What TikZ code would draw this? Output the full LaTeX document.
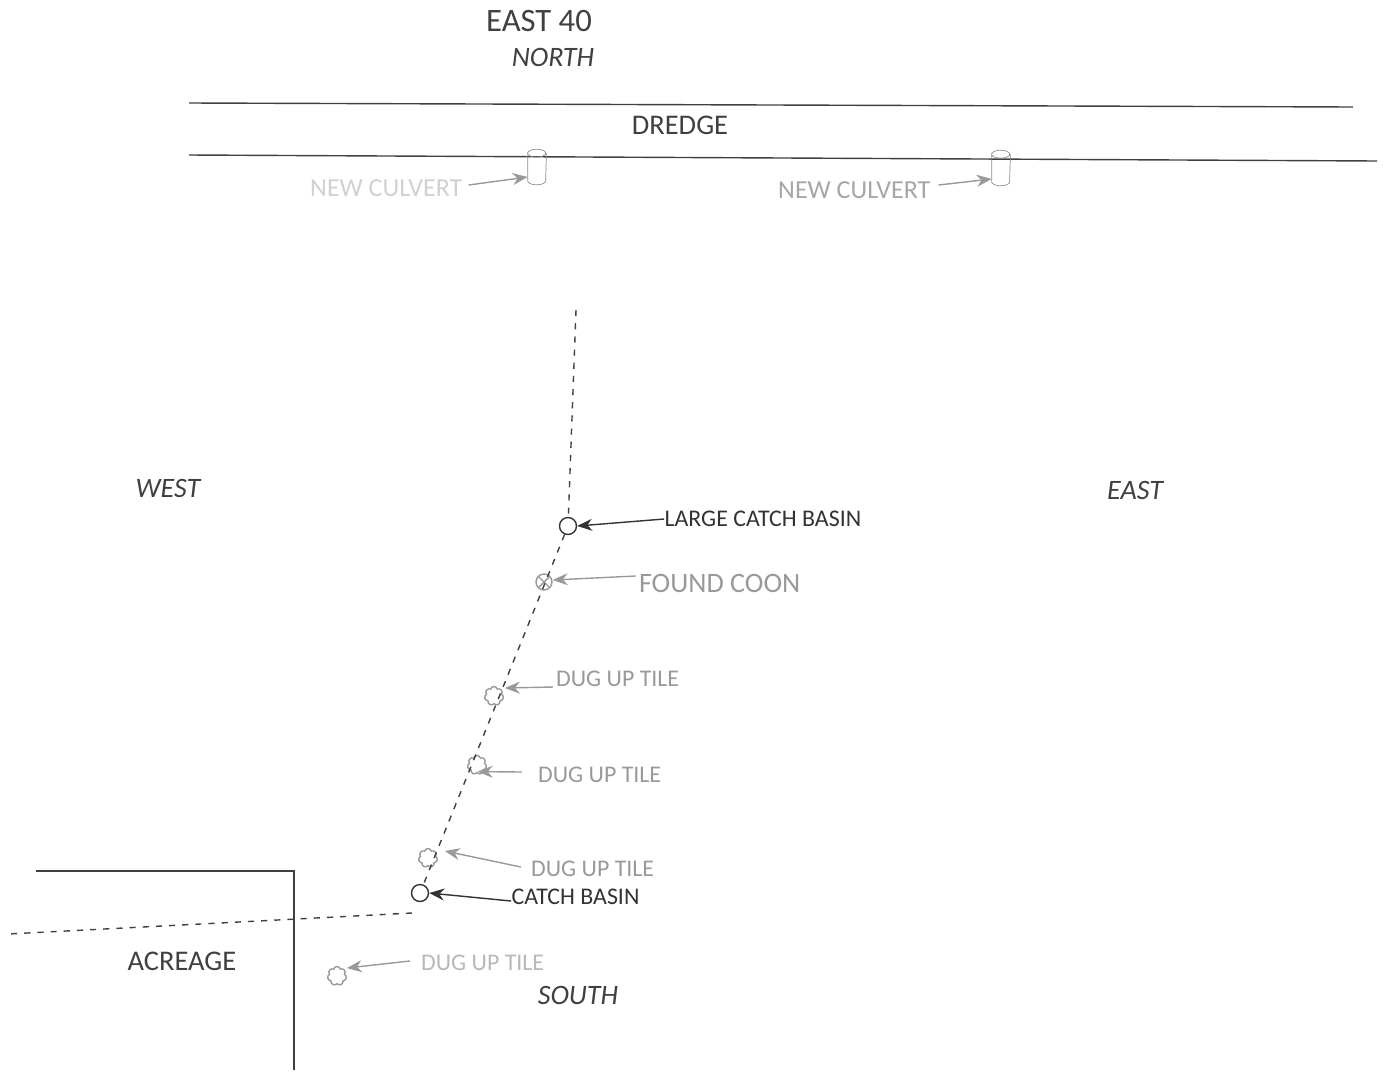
\documentclass[tikz,border=0pt]{standalone}
\usepackage{fontspec}
\setmainfont{Carlito}
\usetikzlibrary{arrows.meta,positioning,shapes.geometric,shapes.symbols}

\begin{document}
\begin{tikzpicture}[
  x=0.02cm, y=-0.02cm,
  title/.style={inner sep=0pt, font=\fontsize{16.2}{19}\selectfont, text=black!75},
  compass/.style={inner sep=0pt, font=\fontsize{16}{19}\selectfont\itshape, text=black!75},
  callout/.style={inner sep=0pt, font=\fontsize{13.6}{16}\selectfont, text=black!40},
  darkcallout/.style={callout, text=black!80},
  palecallout/.style={callout, font=\fontsize{14.8}{17}\selectfont, text=black!18},
  basin/.style={draw=black!80, circle, thick, inner sep=0pt, minimum size=0.34cm},
  tile/.style={draw=black!40, cloud, cloud puffs=7, cloud puff arc=150, aspect=1, thick, inner sep=0pt, minimum size=0.38cm},
  coon/.style={draw=black!40, circle, thick, inner sep=0pt, minimum size=0.32cm, path picture={
    \draw[black!40] (path picture bounding box.north west) -- (path picture bounding box.south east);
    \draw[black!40] (path picture bounding box.north east) -- (path picture bounding box.south west);}},
  culvert/.style={rectangle, inner sep=0pt, minimum height=0.7cm, minimum width=0.36cm},
  culvertline/.style={draw=black!45},
  bank/.style={draw=black!75, thick},
  tileline/.style={draw=black!75, dash pattern=on 3.5pt off 4pt, thick},
  arrow/.style={-{Stealth[length=3mm,width=2.4mm]}, draw=black!40, thick},
  darkarrow/.style={arrow, draw=black!80}
]
\useasboundingbox (0,0) rectangle (1385,1072);

% headings
\node[title, font=\fontsize{18.6}{22}\selectfont] (farm) at (539,21) {EAST 40};
\node[compass] (north) at (553,57) {NORTH};
\node[title] (dredge) at (680,125) {DREDGE};
\node[compass] (west) at (168,488) {WEST};
\node[compass] (east) at (1135,490) {EAST};
\node[compass] (south) at (578,995) {SOUTH};
\node[title] (acreage) at (182,961) {ACREAGE};

% dredge banks
\coordinate (b1) at (189,103);
\coordinate (b2) at (1353,107);
\coordinate (b3) at (189,155);
\coordinate (b4) at (1377,161);
\draw[bank] (b1) -- (b2);
\draw[bank] (b3) -- (b4);

% culverts
\node[culvert] (c1) at (537,167) {};
\node[culvert] (c2) at (1001,168) {};
\foreach \c in {c1,c2}
  \draw[culvertline] ([yshift=-0.08cm]\c.north west) arc[start angle=180,end angle=-180,x radius=0.18cm,y radius=0.08cm]
    -- ([yshift=0.08cm]\c.south west) arc[start angle=180,end angle=360,x radius=0.18cm,y radius=0.08cm]
    -- ([yshift=-0.08cm]\c.north east);
\node[palecallout, left=1.3cm of c1, yshift=-0.42cm] (lc1) {NEW CULVERT};
\node[palecallout, text=black!35, left=1.22cm of c2, yshift=-0.44cm] (lc2) {NEW CULVERT};
\draw[arrow] ([xshift=0.12cm,yshift=0.06cm]lc1.east) -- ([yshift=-0.2cm]c1.west);
\draw[arrow] ([xshift=0.16cm,yshift=0.1cm]lc2.east) -- ([yshift=-0.22cm]c2.west);

% tile markers
\node[basin] (m1) at (568,526) {};
\node[coon] (m2) at (544,582) {};
\node[tile] (m3) at (494,696) {};
\node[tile] (m4) at (477,765) {};
\node[tile] (m5) at (428,858) {};
\node[basin] (m6) at (420,893) {};
\node[tile] (m7) at (337,976) {};

% tile run
\coordinate (t1) at (576,310);
\coordinate (t2) at (412,913);
\coordinate (t3) at (8,934);
\draw[tileline] (t1) -- (m1);
\draw[tileline] (m1) -- (m6);
\draw[tileline] (t2) -- (t3);

% callouts
\node[darkcallout, right=1.74cm of m1, yshift=0.14cm] (l1) {LARGE CATCH BASIN};
\node[callout, font=\fontsize{16}{19}\selectfont, right=1.72cm of m2, yshift=-0.02cm] (l2) {FOUND COON};
\node[callout, right=1.04cm of m3, yshift=0.34cm] (l3) {DUG UP TILE};
\node[callout, right=1.02cm of m4, yshift=-0.2cm] (l4) {DUG UP TILE};
\node[callout, right=1.86cm of m5, yshift=-0.22cm] (l5) {DUG UP TILE};
\node[darkcallout, right=1.64cm of m6, yshift=-0.08cm] (l6) {CATCH BASIN};
\node[callout, text=black!28, right=1.48cm of m7, yshift=0.26cm] (l7) {DUG UP TILE};
\draw[darkarrow] (l1.west) -- (m1.east);
\draw[arrow] ([xshift=-0.06cm,yshift=0.14cm]l2.west) -- ([yshift=0.04cm]m2.east);
\draw[arrow] ([xshift=-0.06cm,yshift=-0.16cm]l3.west) -- ([xshift=0.02cm,yshift=0.16cm]m3.east);
\draw[arrow] ([xshift=-0.32cm,yshift=0.06cm]l4.west) -- ([xshift=-0.12cm]m4.south east);
\draw[arrow] ([xshift=-0.2cm,yshift=0.04cm]l5.west) -- ([xshift=0.14cm,yshift=0.14cm]m5.east);
\draw[darkarrow] ([yshift=-0.08cm]l6.west) -- (m6.east);
\draw[arrow] ([xshift=-0.22cm,yshift=0.04cm]l7.west) -- ([yshift=0.16cm]m7.east);

% acreage boundary
\coordinate (a1) at (36,871);
\coordinate (a2) at (294,871);
\coordinate (a3) at (294,1070);
\draw[bank] (a1) -- (a2) -- (a3);
\end{tikzpicture}
\end{document}
